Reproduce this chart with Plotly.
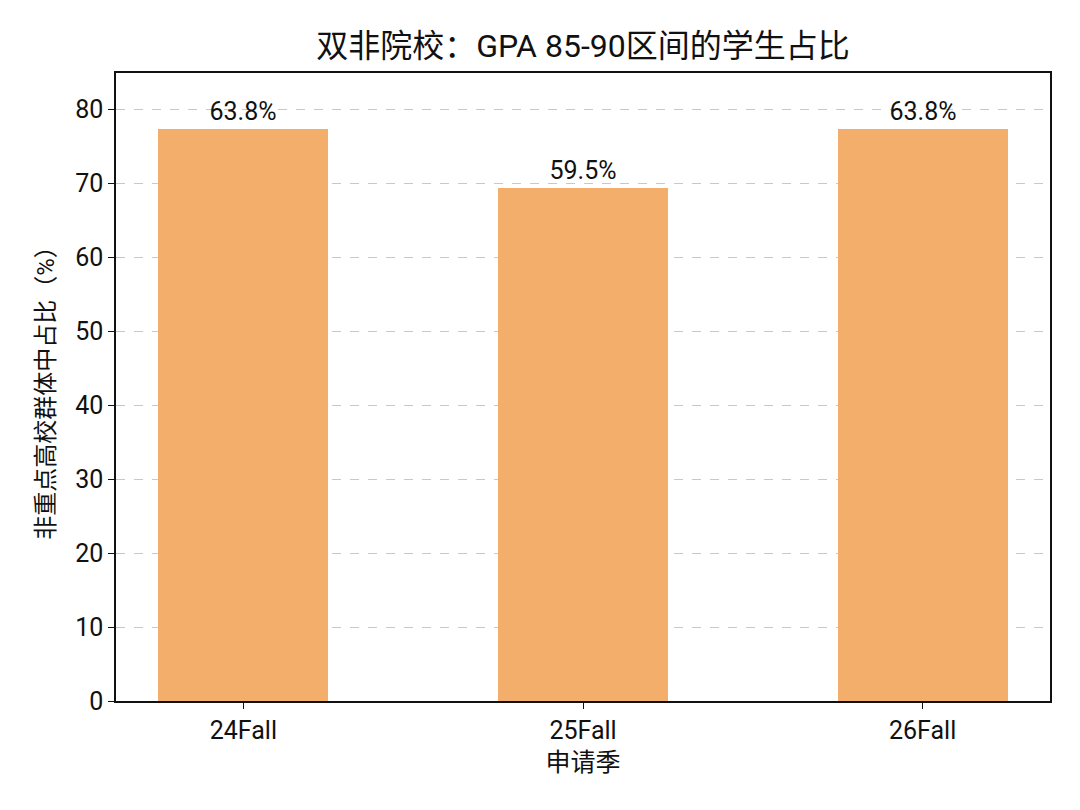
import plotly.graph_objects as go

categories = ["24Fall", "25Fall", "26Fall"]
bar_heights = [77.3, 69.3, 77.3]
bar_labels = ["63.8%", "59.5%", "63.8%"]
y_ticks = [0, 10, 20, 30, 40, 50, 60, 70, 80]

FONT = "Roboto, Noto Sans CJK SC, sans-serif"

fig = go.Figure()
fig.add_trace(go.Bar(
    x=list(range(len(categories))),
    y=bar_heights,
    width=0.5,
    marker=dict(color="#F3AE6B", line=dict(width=0)),
    text=bar_labels,
    textposition="outside",
    textfont=dict(size=25, color="#111111", family=FONT),
    cliponaxis=False,
    hoverinfo="skip",
))

fig.update_layout(
    width=1080, height=810,
    paper_bgcolor="white", plot_bgcolor="white",
    margin=dict(l=108, r=38, t=65, b=117),
    font=dict(family=FONT, color="#111111"),
    title=dict(text="双非院校：GPA 85-90区间的学生占比", x=0.5, xref="paper", xanchor="center",
               y=1 - 38 / 810, yanchor="middle", font=dict(size=32, color="#111111")),
    showlegend=False,
    bargap=0,
)
fig.update_xaxes(
    range=[-0.375, 2.375],
    tickvals=list(range(len(categories))), ticktext=categories,
    ticks="outside", ticklen=6, tickcolor="#111111",
    tickfont=dict(size=25),
    title=dict(text="申请季", font=dict(size=25), standoff=10),
    showline=True, linecolor="#111111", linewidth=1.5, mirror=True,
    showgrid=False, zeroline=False,
)
fig.update_yaxes(
    range=[0, 84.9],
    tickvals=y_ticks,
    ticks="outside", ticklen=6, tickcolor="#111111",
    tickfont=dict(size=25),
    title=dict(text="非重点高校群体中占比（%）", font=dict(size=24), standoff=14),
    showline=True, linecolor="#111111", linewidth=1.5, mirror=True,
    showgrid=True, gridcolor="#C8C8C8", griddash="dash", gridwidth=1,
    zeroline=False,
)

fig.write_html("out.html")
